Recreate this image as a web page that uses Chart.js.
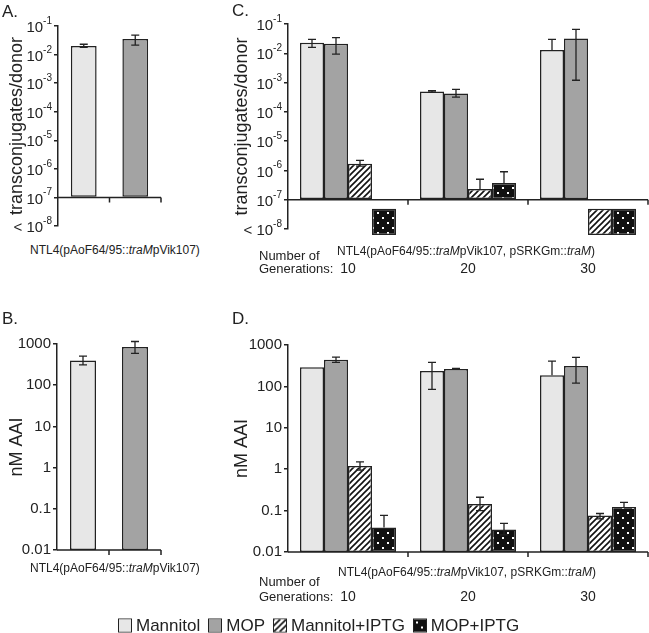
<!DOCTYPE html>
<html>
<head>
<meta charset="utf-8">
<title>Transconjugates and AAI</title>
<script src="https://cdn.jsdelivr.net/npm/chart.js@4.4.1/dist/chart.umd.min.js"></script>
<style>
  body { margin: 0; background: #fff; }
  #fig { position: relative; width: 649px; height: 633px; font-family: "Liberation Sans", Arial, sans-serif; color: #222; overflow: hidden; }
  #fig canvas.panel { position: absolute; }
  .txt { position: absolute; white-space: nowrap; transform: translateY(-50%); line-height: 1; }
  .lbl { font-size: 17px; }
  .strain { font-size: 12px; }
  .gen { font-size: 13px; }
  #legend { position: absolute; left: 118px; top: 625px; transform: translateY(-50%); display: flex; align-items: center; font-size: 17px; line-height: 1; white-space: nowrap; }
  #legend .item { display: flex; align-items: center; margin-right: 8px; }
  #legend canvas { border: 1px solid #222; margin-right: 4px; }
</style>
</head>
<body>
<div id="fig">
  <canvas class="panel" id="chartA" width="168" height="240" style="left:0;top:0"></canvas>
  <canvas class="panel" id="chartB" width="168" height="260" style="left:0;top:320px"></canvas>
  <canvas class="panel" id="chartC" width="424" height="290" style="left:225px;top:0"></canvas>
  <canvas class="panel" id="chartD" width="424" height="290" style="left:225px;top:320px"></canvas>

  <div class="txt lbl" style="left:2px;top:11px">A.</div>
  <div class="txt lbl" style="left:232px;top:10px">C.</div>
  <div class="txt lbl" style="left:2px;top:318px">B.</div>
  <div class="txt lbl" style="left:232px;top:318px">D.</div>

  <div class="txt strain" style="left:30px;top:250px">NTL4(pAoF64/95::<i>traM</i>pVik107)</div>
  <div class="txt strain" style="left:30px;top:568px">NTL4(pAoF64/95::<i>traM</i>pVik107)</div>
  <div class="txt strain" style="left:337px;top:251px">NTL4(pAoF64/95::<i>traM</i>pVik107, pSRKGm::<i>traM</i>)</div>
  <div class="txt strain" style="left:338px;top:572px">NTL4(pAoF64/95::<i>traM</i>pVik107, pSRKGm::<i>traM</i>)</div>

  <div class="txt gen" style="left:259px;top:255px">Number of</div>
  <div class="txt gen" style="left:259px;top:268px">Generations:</div>
  <div class="txt gen" style="left:259px;top:581px">Number of</div>
  <div class="txt gen" style="left:259px;top:596px">Generations:</div>

  <div id="legend"></div>
</div>

<script>
// Series and categories
const seriesNames = ['Mannitol', 'MOP', 'Mannitol+IPTG', 'MOP+IPTG'];
const generations = ['10', '20', '30'];

// Y tick values
const transTicks = [1e-8, 1e-7, 1e-6, 1e-5, 1e-4, 1e-3, 1e-2, 1e-1];
const aaiTicks = [0.01, 0.1, 1, 10, 100, 1000];

// A. transconjugates/donor, NTL4(pAoF64/95::traMpVik107): Mannitol, MOP
const aValues = [0.020, 0.035];
const aErrLow = [0.018, 0.0215];
const aErrHigh = [0.023, 0.048];

// B. nM AAI, same strain: Mannitol, MOP
const bValues = [400, 850];
const bErrLow = [310, 590];
const bErrHigh = [510, 1150];

// C. transconjugates/donor by generation ('nd' = below detection)
const cMannitol = [0.023, 5.0e-4, 0.013];
const cMannitolLow = [0.016, 4.7e-4, null];
const cMannitolHigh = [0.030, 5.3e-4, 0.030];
const cMop = [0.021, 4.2e-4, 0.032];
const cMopLow = [0.0093, 3.2e-4, 1.2e-3];
const cMopHigh = [0.034, 5.9e-4, 0.066];
const cMannitolIptg = [1.7e-6, 2.3e-7, 'nd'];
const cMannitolIptgLow = [1.4e-6, null, null];
const cMannitolIptgHigh = [2.2e-6, 5.0e-7, null];
const cMopIptg = ['nd', 3.7e-7, 'nd'];
const cMopIptgLow = [null, null, null];
const cMopIptgHigh = [null, 9.0e-7, null];

// D. nM AAI by generation
const dMannitol = [290, 236, 186];
const dMannitolLow = [null, 85, null];
const dMannitolHigh = [null, 380, 407];
const dMop = [440, 265, 313];
const dMopLow = [380, 258, 120];
const dMopHigh = [510, 272, 501];
const dMannitolIptg = [1.2, 0.145, 0.076];
const dMannitolIptgLow = [0.95, 0.10, 0.063];
const dMannitolIptgHigh = [1.5, 0.21, 0.085];
const dMopIptg = [0.039, 0.035, 0.123];
const dMopIptgLow = [null, 0.026, null];
const dMopIptgHigh = [0.077, 0.049, 0.158];

// below-detection marker range (data units, under the 10^-7 axis)
const ndRange = [6.3e-9, 4.9e-8];

const FONT = '"Liberation Sans", Arial, sans-serif';
const INK = '#222';

// Fill patterns
function makeHatch() {
    const c = document.createElement('canvas');
    c.width = c.height = 6;
    const g = c.getContext('2d');
    g.fillStyle = '#fff';
    g.fillRect(0, 0, 6, 6);
    g.strokeStyle = '#111';
    g.lineWidth = 1.6;
    g.beginPath();
    g.moveTo(-1, 7); g.lineTo(7, -1);
    g.moveTo(-1, 1); g.lineTo(1, -1);
    g.moveTo(5, 7); g.lineTo(7, 5);
    g.stroke();
    return g.createPattern(c, 'repeat');
}

function makeDots() {
    const c = document.createElement('canvas');
    c.width = c.height = 10;
    const g = c.getContext('2d');
    g.fillStyle = '#111';
    g.fillRect(0, 0, 10, 10);
    g.fillStyle = '#fff';
    g.fillRect(2, 2, 2, 2);
    g.fillRect(7, 7, 2, 2);
    return g.createPattern(c, 'repeat');
}

const fills = ['#e7e7e7', '#a3a3a3', makeHatch(), makeDots()];

function plainLabel(v) {
    return String(v);
}

function withNd(arr) {
    return arr.map(v => v === 'nd' ? ndRange : v);
}

// Power-of-ten tick labels with a raised exponent
const powerTicksPlugin = {
    id: 'powerTicks',
    afterDraw(chart, args, opts) {
        if (!opts.enabled) return;
        const ctx = chart.ctx;
        const ys = chart.scales.y;
        const right = chart.chartArea.left - 6;
        ctx.save();
        ctx.fillStyle = INK;
        ctx.textAlign = 'right';
        ys.ticks.forEach(t => {
            const y = ys.getPixelForValue(t.value);
            const exp = String(Math.round(Math.log10(t.value)));
            ctx.font = '10px ' + FONT;
            ctx.textBaseline = 'alphabetic';
            const ew = ctx.measureText(exp).width;
            ctx.fillText(exp, right, y - 2);
            ctx.font = '15px ' + FONT;
            ctx.textBaseline = 'middle';
            const base = t.value === transTicks[0] ? '< 10' : '10';
            ctx.fillText(base, right - ew, y + 2);
        });
        ctx.restore();
    }
};

// Draws the horizontal base axis and its category ticks
const baseAxisPlugin = {
    id: 'baseAxis',
    afterDatasetsDraw(chart, args, opts) {
        const { ctx, chartArea } = chart;
        const xs = chart.scales.x;
        const yPos = chart.scales.y.getPixelForValue(opts.value);
        const n = chart.data.labels.length;
        const step = (xs.right - xs.left) / n;
        ctx.save();
        ctx.strokeStyle = INK;
        ctx.lineWidth = 1.5;
        ctx.beginPath();
        ctx.moveTo(chartArea.left, yPos);
        ctx.lineTo(chartArea.right, yPos);
        for (let i = 1; i <= n; i++) {
            const x = xs.left + i * step;
            ctx.moveTo(x, yPos);
            ctx.lineTo(x, yPos + 5);
        }
        ctx.stroke();
        ctx.restore();
    }
};

// Error bars from dataset.errLow / dataset.errHigh
const errorBarPlugin = {
    id: 'errorBars',
    afterDatasetsDraw(chart) {
        const ctx = chart.ctx;
        const ys = chart.scales.y;
        ctx.save();
        ctx.strokeStyle = INK;
        ctx.lineWidth = 1.3;
        chart.data.datasets.forEach((ds, di) => {
            if (!ds.errHigh) return;
            const meta = chart.getDatasetMeta(di);
            meta.data.forEach((bar, i) => {
                const hi = ds.errHigh[i];
                const lo = ds.errLow[i];
                if (hi == null && lo == null) return;
                const top = hi == null ? bar.y : ys.getPixelForValue(hi);
                const bottom = lo == null ? bar.y : ys.getPixelForValue(lo);
                ctx.beginPath();
                ctx.moveTo(bar.x, top);
                ctx.lineTo(bar.x, bottom);
                if (hi != null) { ctx.moveTo(bar.x - 4, top); ctx.lineTo(bar.x + 4, top); }
                if (lo != null) { ctx.moveTo(bar.x - 4, bottom); ctx.lineTo(bar.x + 4, bottom); }
                ctx.stroke();
            });
        });
        ctx.restore();
    }
};

function logAxis(tickValues, power, title, width) {
    return {
        type: 'logarithmic',
        min: tickValues[0],
        max: tickValues[tickValues.length - 1],
        afterBuildTicks: scale => { scale.ticks = tickValues.map(v => ({ value: v })); },
        afterFit: scale => { scale.width = width; },
        ticks: {
            callback: power ? () => '' : plainLabel,
            color: INK, font: { size: 15, family: FONT }, padding: 2, autoSkip: false
        },
        grid: { drawOnChartArea: false, drawTicks: true, tickLength: 4, color: INK, lineWidth: 1.5 },
        border: { display: true, color: INK, width: 1.5 },
        title: { display: true, text: title, color: INK, font: { size: 18, family: FONT }, padding: { top: 6, bottom: 0 } }
    };
}

function catAxis(showLabels, labelPadding) {
    return {
        type: 'category',
        display: showLabels,
        afterFit: scale => { scale.height = showLabels ? 50 : 0; },
        ticks: { color: INK, font: { size: 14, family: FONT }, padding: labelPadding, maxRotation: 0 },
        grid: { display: false, drawTicks: false },
        border: { display: false }
    };
}

function barStyle(i) {
    return { backgroundColor: fills[i], borderColor: INK, borderWidth: 1.5, borderSkipped: false };
}

function makeChart(id, labels, datasets, yAxis, xAxis, axisValue, power, padding, catPct) {
    return new Chart(document.getElementById(id), {
        type: 'bar',
        data: { labels: labels, datasets: datasets },
        options: {
            responsive: false,
            animation: false,
            layout: { padding: padding },
            datasets: { bar: { categoryPercentage: catPct, barPercentage: 1.0 } },
            scales: { x: xAxis, y: yAxis },
            plugins: {
                legend: { display: false },
                tooltip: { enabled: false },
                baseAxis: { value: axisValue },
                powerTicks: { enabled: power }
            }
        },
        plugins: [baseAxisPlugin, errorBarPlugin, powerTicksPlugin]
    });
}

// Panel A
makeChart('chartA', seriesNames.slice(0, 2), [{
    label: 'transconjugates/donor',
    data: aValues,
    errLow: aErrLow,
    errHigh: aErrHigh,
    base: 1e-7,
    backgroundColor: fills.slice(0, 2),
    borderColor: INK, borderWidth: 1.5, borderSkipped: false
}], logAxis(transTicks, true, 'transconjugates/donor', 58), catAxis(false, 0), 1e-7, true,
    { top: 26, right: 7, bottom: 14, left: 0 }, 0.5);

// Panel B
makeChart('chartB', seriesNames.slice(0, 2), [{
    label: 'nM AAI',
    data: bValues,
    errLow: bErrLow,
    errHigh: bErrHigh,
    backgroundColor: fills.slice(0, 2),
    borderColor: INK, borderWidth: 1.5, borderSkipped: false
}], logAxis(aaiTicks, false, 'nM AAI', 57), catAxis(false, 0), 0.01, false,
    { top: 24, right: 7, bottom: 30, left: 0 }, 0.5);

// Panel C
const cSeries = [
    [cMannitol, cMannitolLow, cMannitolHigh],
    [cMop, cMopLow, cMopHigh],
    [cMannitolIptg, cMannitolIptgLow, cMannitolIptgHigh],
    [cMopIptg, cMopIptgLow, cMopIptgHigh]
];
makeChart('chartC', generations, cSeries.map((s, i) => Object.assign({
    label: seriesNames[i],
    data: withNd(s[0]),
    errLow: s[1],
    errHigh: s[2],
    base: 1e-7,
    clip: false
}, barStyle(i))), logAxis(transTicks, true, 'transconjugates/donor', 63), catAxis(true, 32), 1e-7, true,
    { top: 24, right: 1, bottom: 11, left: 0 }, 0.8);

// Panel D
const dSeries = [
    [dMannitol, dMannitolLow, dMannitolHigh],
    [dMop, dMopLow, dMopHigh],
    [dMannitolIptg, dMannitolIptgLow, dMannitolIptgHigh],
    [dMopIptg, dMopIptgLow, dMopIptgHigh]
];
makeChart('chartD', generations, dSeries.map((s, i) => Object.assign({
    label: seriesNames[i],
    data: s[0],
    errLow: s[1],
    errHigh: s[2]
}, barStyle(i))), logAxis(aaiTicks, false, 'nM AAI', 63), catAxis(true, 37), 0.01, false,
    { top: 25, right: 1, bottom: 8, left: 0 }, 0.8);

// Legend
const legend = document.getElementById('legend');
seriesNames.forEach((name, i) => {
    const item = document.createElement('span');
    item.className = 'item';
    const sw = document.createElement('canvas');
    sw.width = 12;
    sw.height = 12;
    const g = sw.getContext('2d');
    g.fillStyle = fills[i];
    g.fillRect(0, 0, 12, 12);
    item.appendChild(sw);
    item.appendChild(document.createTextNode(name));
    legend.appendChild(item);
});
</script>
</body>
</html>
